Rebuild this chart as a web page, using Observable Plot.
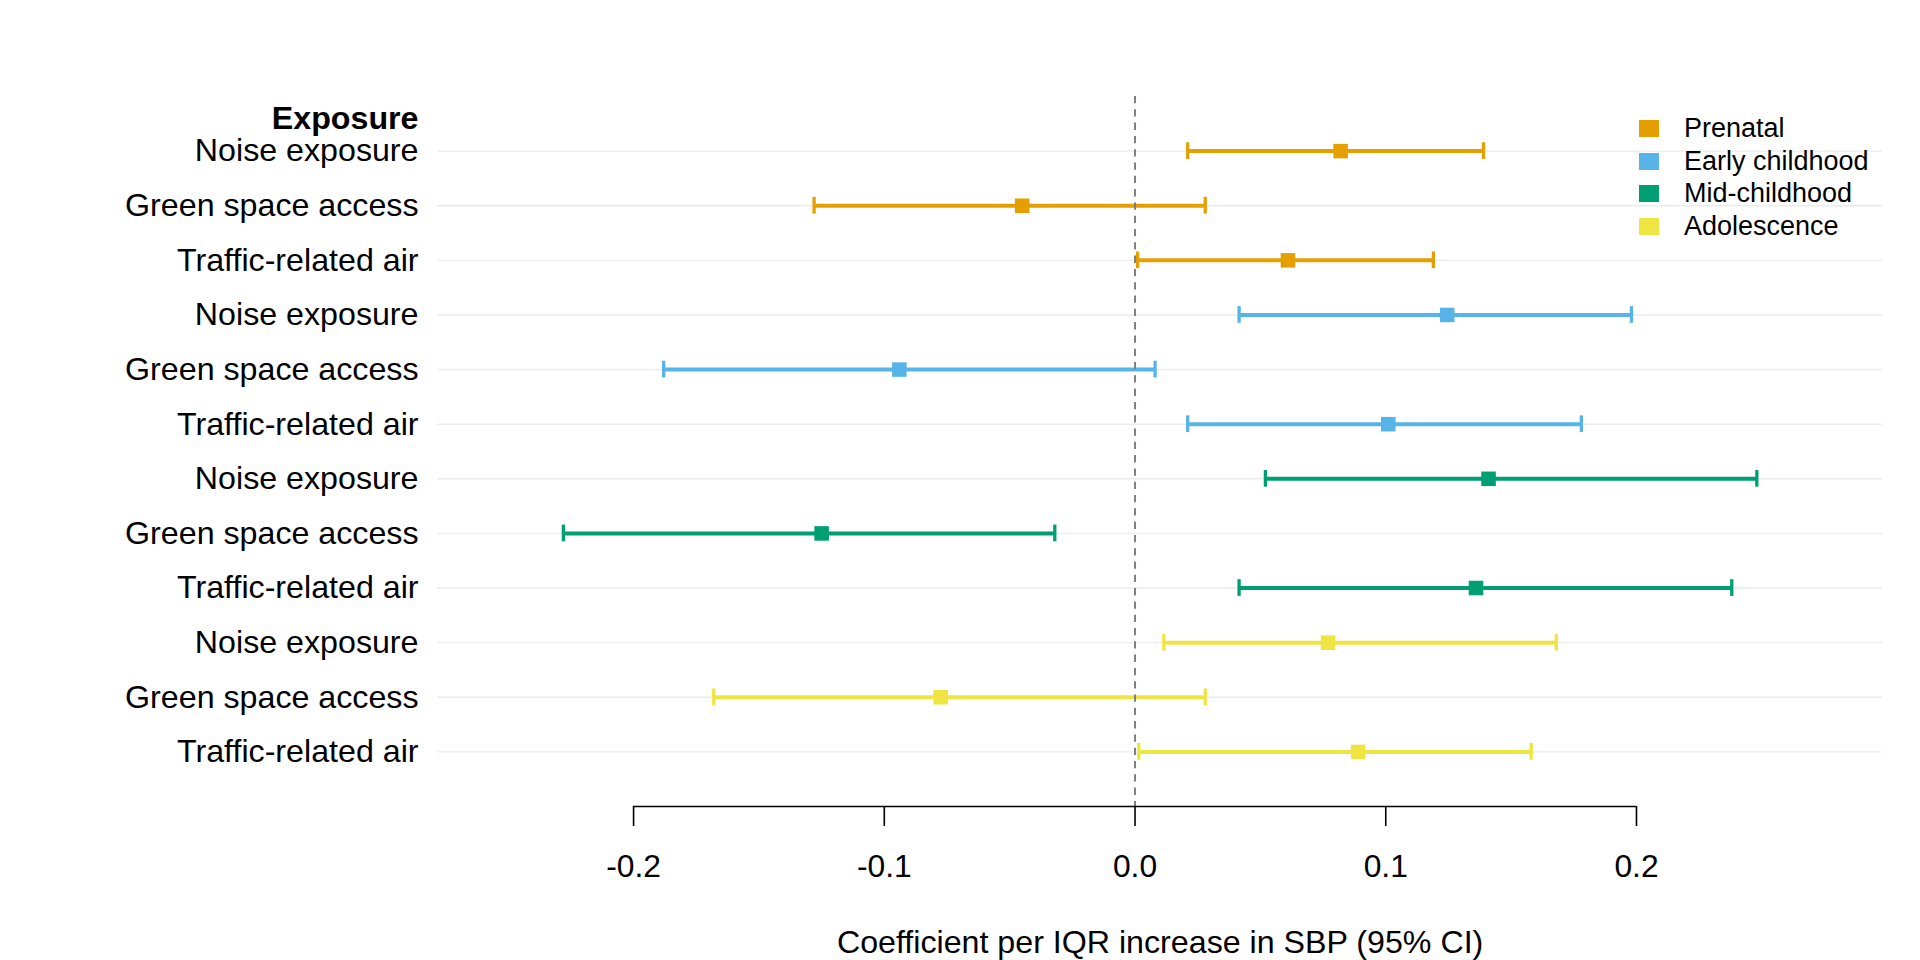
<!DOCTYPE html>
<html>
<head>
<meta charset="utf-8">
<script src="https://cdn.jsdelivr.net/npm/d3@7"></script>
<script src="https://cdn.jsdelivr.net/npm/@observablehq/plot@0.6"></script>
<style>
  html, body { margin: 0; padding: 0; background: #fff; }
  #wrap { position: relative; width: 1920px; height: 960px; overflow: hidden;
          font-family: "Liberation Sans", Arial, Helvetica, sans-serif; }
  #legend { position: absolute; left: 1639px; top: 112px; }
  .item { display: flex; align-items: center; height: 32.8px; font-size: 27px; color: #000; white-space: nowrap; }
  .key { width: 20px; height: 17px; margin-right: 25px; flex: none; }
</style>
</head>
<body>
<div id="wrap"><div id="chart"></div><div id="legend"></div></div>
<script>
// ---- data ----
const stages = ["Prenatal", "Early childhood", "Mid-childhood", "Adolescence"];
const stageColors = ["#E69F00", "#56B4E9", "#009E73", "#F0E442"];
const exposures = ["Noise exposure", "Green space access", "Traffic-related air"];
// rows top to bottom: stage x exposure
const estimates = [0.082, -0.045, 0.061,  0.1245, -0.094, 0.101,  0.141, -0.125, 0.136,  0.077, -0.0775, 0.089];
const lowerCI   = [0.021, -0.128, 0.001,  0.0415, -0.188, 0.021,  0.052, -0.228, 0.0415, 0.0115, -0.168, 0.0015];
const upperCI   = [0.139,  0.028, 0.119,  0.198,   0.008, 0.178,  0.248, -0.032, 0.238,  0.168,  0.028, 0.158];
const xTicks = [-0.2, -0.1, 0.0, 0.1, 0.2];
const xTitle = "Coefficient per IQR increase in SBP (95% CI)";
const yTitle = "Exposure";

const rows = estimates.map((est, k) => ({
  row: k + 1,
  stage: stages[Math.floor(k / 3)],
  exposure: exposures[k % 3],
  est, lo: lowerCI[k], hi: upperCI[k]
}));
const rowIdx = rows.map(d => d.row);

const FONT = '"Liberation Sans", Arial, Helvetica, sans-serif';

const chart = Plot.plot({
  width: 1920,
  height: 960,
  marginLeft: 437.5,
  marginRight: 38.3,
  marginTop: 96,
  marginBottom: 154,
  style: { fontFamily: FONT, color: "black", background: "white" },
  x: { domain: [-0.278, 0.298], label: null },
  y: { domain: [0, 13], reverse: true, label: null },
  color: { domain: stages, range: stageColors },
  marks: [
    Plot.ruleY(rowIdx, { stroke: "#EBEBEB", strokeWidth: 1.4 }),
    Plot.ruleY(rows, { y: "row", x1: "lo", x2: "hi", stroke: "stage", strokeWidth: 4 }),
    Plot.ruleX(rows, { x: "lo", y1: d => d.row - 0.153, y2: d => d.row + 0.153, stroke: "stage", strokeWidth: 3.3 }),
    Plot.ruleX(rows, { x: "hi", y1: d => d.row - 0.153, y2: d => d.row + 0.153, stroke: "stage", strokeWidth: 3.3 }),
    Plot.dot(rows, { x: "est", y: "row", fill: "stage", symbol: "square", r: 8.2 }),
    Plot.ruleX([0], { stroke: "#7F7F7F", strokeWidth: 2, strokeDasharray: "7.3,6" }),
    Plot.ruleY([13], { x1: xTicks[0], x2: xTicks[xTicks.length - 1], stroke: "black", strokeWidth: 1.7 }),
    Plot.axisX({ ticks: xTicks, tickFormat: d => d.toFixed(1), tickSize: 20, tickPadding: 28.3,
                 fontSize: 31.8, stroke: "black", strokeWidth: 1.6, fill: "black", label: null }),
    Plot.axisY({ ticks: rowIdx, tickFormat: i => exposures[(i - 1) % 3], tickSize: 0, tickPadding: 19.5,
                 fontSize: 32.2, fill: "black", label: null }),
    Plot.text([yTitle], { text: d => d, frameAnchor: "top-left", dx: -19.5, dy: 22, textAnchor: "end",
                          lineAnchor: "middle", fontSize: 32.2, fontWeight: "bold", fill: "black" }),
    Plot.text([xTitle], { text: d => d, frameAnchor: "bottom", dy: 136, lineAnchor: "middle",
                          fontSize: 32.2, fill: "black" })
  ]
});
document.getElementById("chart").appendChild(chart);

// legend (HTML, positioned inside the panel's top-right)
const legend = document.getElementById("legend");
stages.forEach((s, i) => {
  const item = document.createElement("div");
  item.className = "item";
  const key = document.createElement("div");
  key.className = "key";
  key.style.background = stageColors[i];
  const lab = document.createElement("span");
  lab.textContent = s;
  item.appendChild(key);
  item.appendChild(lab);
  legend.appendChild(item);
});
</script>
</body>
</html>
